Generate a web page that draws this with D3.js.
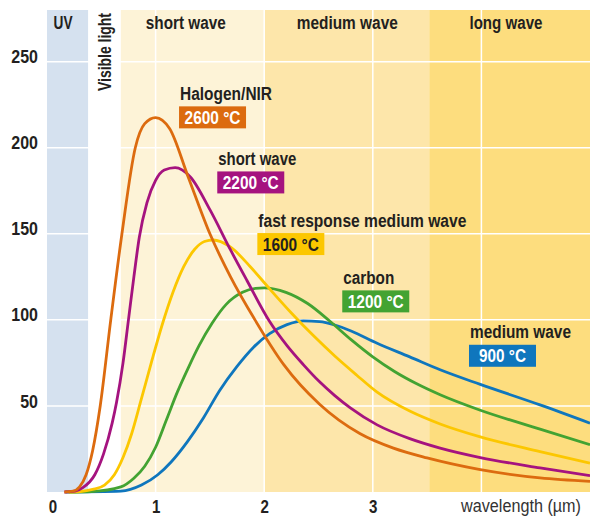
<!DOCTYPE html>
<html>
<head>
<meta charset="utf-8">
<script src="https://cdn.jsdelivr.net/npm/d3@7"></script>
<style>
  body { margin: 0; background: #fff; }
  text { font-family: "Liberation Sans", Arial, sans-serif; fill: #231f20; }
</style>
</head>
<body>
<div id="chart"></div>
<script>
// Spectral bands (wavelength in µm)
var bandNames = ["UV", "Visible light", "short wave", "medium wave", "long wave"];
var bandStart = [0, 0.38, 0.68, 2.0, 3.52];
var bandEnd = [0.38, 0.68, 2.0, 3.52, 5.0];

// Emitter curves: [wavelength µm, intensity]
var halogenNir = [[0.16,0],[0.24,0.5],[0.30,3],[0.36,10],[0.42,24],[0.49,50],[0.587,100],[0.69,150],[0.813,200],[0.90,214],[1.0,217.5],[1.13,211],[1.30,183],[1.50,150],[1.69,125],[1.915,100],[2.18,74],[2.51,51],[2.88,34],[3.19,25.5],[3.50,19.8],[3.99,13],[4.54,8.2],[5.0,6.2]];
var shortWave = [[0.16,0],[0.26,0.5],[0.33,2.5],[0.44,10],[0.52,22],[0.60,40],[0.64,52],[0.70,75],[0.75,100],[0.80,125],[0.85,148],[0.92,168],[1.0,181],[1.08,187],[1.18,188.4],[1.32,183],[1.50,164],[1.69,140.6],[1.84,123],[2.05,99],[2.21,85],[2.36,74],[2.51,64],[2.65,56],[2.79,49],[3.04,39],[3.34,31],[3.62,25.5],[3.99,20],[4.54,14],[5.0,9.5]];
var fastMedium = [[0.20,0],[0.31,0.3],[0.42,1.5],[0.53,4],[0.62,10],[0.70,20],[0.78,34],[0.86,52],[0.96,75],[1.06,97],[1.16,116],[1.26,131],[1.36,141],[1.45,145.5],[1.53,146.4],[1.685,142.5],[1.87,131],[2.05,118],[2.25,104],[2.45,91],[2.65,79],[2.85,68],[3.04,58],[3.34,47],[3.62,39.5],[3.99,32],[4.54,23.5],[5.0,16.8]];
var carbon = [[0.20,0],[0.41,0.3],[0.68,3],[0.80,8],[0.90,15],[1.00,26],[1.10,42],[1.20,58],[1.30,72],[1.40,85],[1.52,98],[1.65,109],[1.80,116],[1.92,118.3],[2.0,118.6],[2.2,116],[2.4,109.5],[2.6,99.5],[2.8,88.5],[3.0,78.5],[3.2,70],[3.4,63],[3.62,56.5],[3.99,47.5],[4.54,36.5],[5.0,27.5]];
var mediumWave = [[0.17,0],[0.68,0.5],[0.87,4],[1.02,10],[1.145,17.6],[1.29,29],[1.44,43],[1.59,59],[1.75,73],[1.90,84],[2.05,92],[2.21,97.2],[2.36,99.4],[2.51,99],[2.65,97],[2.80,93.5],[3.04,86.4],[3.34,78.5],[3.62,71],[3.99,62.5],[4.54,50.6],[5.0,40]];

var seriesNames = ["Halogen/NIR", "short wave", "fast response medium wave", "carbon", "medium wave"];
var seriesTemps = ["2600 °C", "2200 °C", "1600 °C", "1200 °C", "900 °C"];
var seriesData = [halogenNir, shortWave, fastMedium, carbon, mediumWave];
// label anchor in data units (left edge of text, text baseline)
var labelAt = [[1.225, 227.8], [1.577, 190], [1.946, 154.2], [2.728, 120.9], [3.895, 89.3]];

var yTicks = [50, 100, 150, 200, 250];
var xTicks = [0, 1, 2, 3];
var xGrid = [1, 2, 3, 4];

var svgWidth = 590;
var svgHeight = 517;

var seriesColors = ["#dc6b0f", "#a5137f", "#fcc700", "#43a332", "#0f76bd"];
var boxText = ["#fff", "#fff", "#231f20", "#fff", "#fff"];
var bandColors = ["#d5e1ef", "#ffffff", "#fdf3d7", "#fde6aa", "#fddd7e"];

// condensed look: squeeze text to the widths measured on the original
var labelWidths = [92, 78, 208, 51, 101];
var tempWidths = [56, 56, 56, 56, 47];
var bandLabelWidths = [19, 80, 101, 73];

var svg = d3.select("#chart")
  .append("svg")
  .attr("width", svgWidth)
  .attr("height", svgHeight);

var x = d3.scaleLinear().domain([0, 5]).range([47, 590]);
var y = d3.scaleLinear().domain([0, 280]).range([492, 10]);

// bands
svg.selectAll("rect.band")
  .data(bandNames)
  .enter()
  .append("rect")
  .attr("class", "band")
  .attr("x", (d, i) => x(bandStart[i]))
  .attr("width", (d, i) => x(bandEnd[i]) - x(bandStart[i]))
  .attr("y", y(280))
  .attr("height", y(0) - y(280))
  .attr("fill", (d, i) => bandColors[i]);

// grid
svg.selectAll("line.hgrid")
  .data(yTicks)
  .enter()
  .append("line")
  .attr("x1", x(0)).attr("x2", x(5))
  .attr("y1", d => y(d)).attr("y2", d => y(d))
  .attr("stroke", "#fff").attr("stroke-width", 1.5);

svg.selectAll("line.vgrid")
  .data(xGrid)
  .enter()
  .append("line")
  .attr("x1", d => x(d)).attr("x2", d => x(d))
  .attr("y1", y(280)).attr("y2", y(0))
  .attr("stroke", "#fff").attr("stroke-width", 1.5);

// band labels
var bandLabelX = [0.06, 0.91, 2.30, 3.89];
var bandLabelText = [bandNames[0], bandNames[2], bandNames[3], bandNames[4]];
svg.selectAll("text.bandlabel")
  .data(bandLabelText)
  .enter()
  .append("text")
  .attr("x", (d, i) => x(bandLabelX[i]))
  .attr("y", 29)
  .attr("font-size", 17.5)
  .attr("font-weight", "bold")
  .attr("textLength", (d, i) => bandLabelWidths[i])
  .attr("lengthAdjust", "spacingAndGlyphs")
  .text(d => d);

svg.append("text")
  .attr("transform", `translate(${x(0.585)}, ${91}) rotate(-90)`)
  .attr("font-size", 18)
  .attr("font-weight", "bold")
  .attr("textLength", 78)
  .attr("lengthAdjust", "spacingAndGlyphs")
  .text(bandNames[1]);

// curves
var line = d3.line()
  .x(d => x(d[0]))
  .y(d => y(d[1]))
  .curve(d3.curveMonotoneX);

svg.selectAll("path.curve")
  .data(seriesData.slice().reverse())
  .enter()
  .append("path")
  .attr("d", line)
  .attr("fill", "none")
  .attr("stroke", (d, i) => seriesColors[seriesData.length - 1 - i])
  .attr("stroke-width", 2.8);

// curve labels
var lab = svg.selectAll("g.curvelabel")
  .data(seriesNames)
  .enter()
  .append("g")
  .attr("transform", (d, i) => `translate(${x(labelAt[i][0])}, ${y(labelAt[i][1])})`);

lab.append("text")
  .attr("font-size", 17.5)
  .attr("font-weight", "bold")
  .attr("textLength", (d, i) => labelWidths[i])
  .attr("lengthAdjust", "spacingAndGlyphs")
  .text(d => d);

lab.append("rect")
  .attr("x", -1)
  .attr("y", 6.5)
  .attr("width", 67)
  .attr("height", 22)
  .attr("fill", (d, i) => seriesColors[i]);

lab.append("text")
  .attr("x", (d, i) => 32.5 - tempWidths[i] / 2)
  .attr("y", 24.2)
  .attr("font-size", 17.5)
  .attr("font-weight", "bold")
  .attr("textLength", (d, i) => tempWidths[i])
  .attr("lengthAdjust", "spacingAndGlyphs")
  .style("fill", (d, i) => boxText[i])
  .text((d, i) => seriesTemps[i]);

// axes
var leftAxis = d3.axisLeft(y).tickValues(yTicks).tickSize(0).tickPadding(0);
var gy = svg.append("g")
  .attr("transform", "translate(38, 0)")
  .call(leftAxis);
gy.select(".domain").remove();
gy.selectAll("text")
  .attr("dy", "0.06em")
  .attr("font-size", 19)
  .attr("font-weight", "bold")
  .attr("font-family", null)
  .attr("fill", null)
  .attr("textLength", d => String(d).length * 8.9)
  .attr("lengthAdjust", "spacingAndGlyphs");

var bottomAxis = d3.axisBottom(x).tickValues(xTicks).tickSize(0).tickPadding(8).tickFormat(d3.format("d"));
var gx = svg.append("g")
  .attr("transform", `translate(0, ${y(0)})`)
  .call(bottomAxis);
gx.select(".domain").remove();
gx.selectAll("text")
  .attr("dx", d => d === 0 ? 5.5 : 0)
  .attr("font-size", 18)
  .attr("font-weight", "bold")
  .attr("font-family", null)
  .attr("fill", null)
  .attr("textLength", 8.4)
  .attr("lengthAdjust", "spacingAndGlyphs");

svg.append("text")
  .attr("x", 461)
  .attr("y", 512)
  .attr("font-size", 17.5)
  .attr("textLength", 120)
  .attr("lengthAdjust", "spacingAndGlyphs")
  .style("fill", "#333")
  .text("wavelength (µm)");
</script>
</body>
</html>
